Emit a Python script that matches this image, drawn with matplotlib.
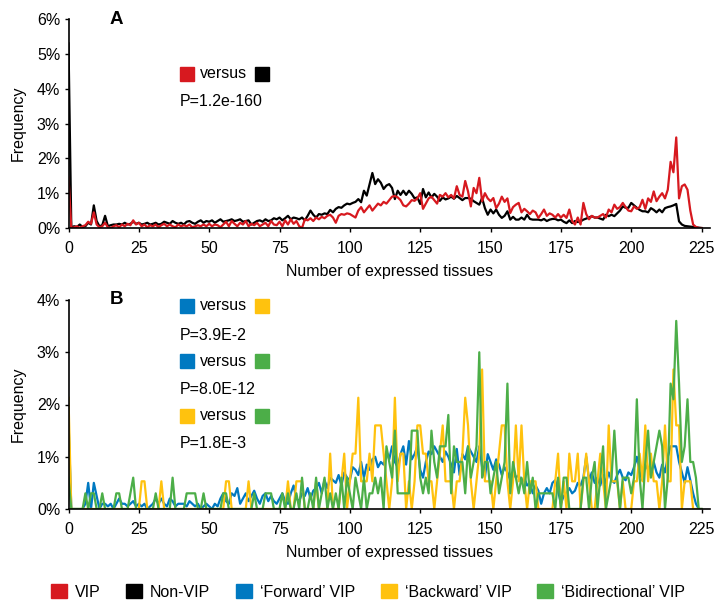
import matplotlib
matplotlib.use("Agg")
import matplotlib.pyplot as plt
import numpy as np
from matplotlib.patches import Patch, Rectangle
from matplotlib.ticker import FuncFormatter

plt.rcParams['font.family'] = ['Liberation Sans', 'DejaVu Sans']

tissues = list(range(226))

# panel A: frequency (%) by number of expressed tissues
vip = [1.45, 0.0, 0.02, 0.05, 0.0, 0.05, 0.08, 0.18, 0.12, 0.45,
       0.1, 0.02, 0.05, 0.15, 0.02, 0.0, 0.05, 0.08, 0.02, 0.1,
       0.05, 0.12, 0.08, 0.22, 0.1, 0.15, 0.05, 0.1, 0.02, 0.08,
       0.05, 0.1, 0.02, 0.08, 0.12, 0.05, 0.1, 0.05, 0.02, 0.1,
       0.05, 0.08, 0.05, 0.1, 0.02, 0.05, 0.08, 0.05, 0.1, 0.05,
       0.12, 0.05, 0.1, 0.08, 0.02, 0.1, 0.18, 0.05, 0.2, 0.12,
       0.05, 0.15, 0.1, 0.2, 0.05, 0.12, 0.08, 0.15, 0.05, 0.1,
       0.15, 0.05, 0.2, 0.1, 0.08, 0.18, 0.05, 0.22, 0.1, 0.25,
       0.12, 0.2, 0.05, 0.0, 0.25, 0.22, 0.28, 0.2, 0.3, 0.25,
       0.32, 0.28, 0.35, 0.38, 0.3, 0.15, 0.35, 0.4, 0.38, 0.42,
       0.4, 0.35, 0.3, 0.5, 0.6, 0.45, 0.55, 0.65, 0.5, 0.6,
       0.7, 0.65, 0.75, 0.7, 0.8, 0.9, 0.92, 0.88, 0.8, 0.65,
       0.62, 0.7, 0.8, 0.78, 0.85, 1.0, 0.55, 0.7, 0.85, 0.9,
       0.8, 0.7, 0.95, 0.9, 1.0, 0.88, 0.95, 0.85, 1.2, 0.95,
       0.9, 1.35, 1.05, 0.62, 1.15, 1.0, 1.44, 0.77, 1.0, 0.85,
       0.77, 0.86, 0.57, 0.7, 0.9, 0.75, 0.85, 0.43, 0.6, 0.67,
       0.72, 0.45, 0.55, 0.48, 0.4, 0.5, 0.45, 0.29, 0.4, 0.53,
       0.35, 0.42, 0.38, 0.3, 0.4, 0.3, 0.38, 0.29, 0.53, 0.2,
       0.1, 0.3, 0.1, 0.72, 0.4, 0.25, 0.35, 0.3, 0.3, 0.35,
       0.4, 0.3, 0.53, 0.45, 0.67, 0.55, 0.6, 0.72, 0.6, 0.5,
       0.48, 0.62, 0.55, 0.6, 0.81, 0.55, 0.85, 0.75, 1.05, 0.77,
       0.9, 1.0, 0.85, 1.1, 1.9, 1.6, 2.6, 0.85, 1.2, 1.25,
       1.1, 0.5, 0.1, 0.03, 0.0, 0.0]

non_vip = [5.3, 0.02, 0.05, 0.03, 0.1, 0.03, 0.05, 0.15, 0.1, 0.65,
           0.2, 0.05, 0.08, 0.35, 0.05, 0.08, 0.1, 0.1, 0.12, 0.1,
           0.15, 0.1, 0.12, 0.18, 0.12, 0.15, 0.1, 0.12, 0.15, 0.1,
           0.12, 0.15, 0.1, 0.12, 0.18, 0.15, 0.12, 0.2, 0.15, 0.12,
           0.15, 0.1, 0.18, 0.2, 0.15, 0.12, 0.18, 0.22, 0.15, 0.2,
           0.18, 0.22, 0.15, 0.2, 0.25, 0.18, 0.2, 0.22, 0.25, 0.2,
           0.22, 0.25, 0.18, 0.2, 0.22, 0.1, 0.15, 0.2, 0.22, 0.18,
           0.25, 0.2, 0.22, 0.28, 0.25, 0.3, 0.22, 0.28, 0.35, 0.25,
           0.3, 0.28, 0.25, 0.3, 0.22, 0.35, 0.5, 0.38, 0.3, 0.4,
           0.38, 0.42, 0.4, 0.52, 0.45, 0.55, 0.6, 0.58, 0.65, 0.7,
           0.68, 0.72, 0.75, 0.83, 0.74, 1.07, 0.93, 1.26, 1.58, 1.26,
           1.4, 1.3, 1.12, 1.22, 1.26, 1.15, 0.83, 1.07, 0.95, 1.07,
           0.95, 1.07, 0.98, 0.85, 0.88, 0.69, 1.12, 0.88, 1.02, 0.88,
           0.98, 0.9, 0.78, 0.88, 0.82, 0.85, 0.9, 0.84, 0.92, 0.86,
           0.8, 0.86, 0.86, 0.84, 0.77, 0.72, 0.67, 0.86, 0.57, 0.38,
           0.53, 0.42, 0.53, 0.38, 0.29, 0.35, 0.48, 0.24, 0.32, 0.24,
           0.24, 0.3, 0.24, 0.38, 0.26, 0.24, 0.24, 0.24, 0.22, 0.26,
           0.2, 0.24, 0.26, 0.26, 0.22, 0.24, 0.18, 0.14, 0.22, 0.14,
           0.2, 0.17, 0.19, 0.24, 0.27, 0.3, 0.34, 0.3, 0.3, 0.27,
           0.24, 0.38, 0.34, 0.38, 0.34, 0.42, 0.5, 0.62, 0.58, 0.58,
           0.72, 0.65, 0.58, 0.52, 0.48, 0.48, 0.45, 0.57, 0.52, 0.45,
           0.53, 0.45, 0.57, 0.6, 0.62, 0.65, 0.69, 0.19, 0.1, 0.06,
           0.05, 0.04, 0.03, 0.02, 0.01, 0.0]

# panel B
forward = [1.7, 0.0, 0.0, 0.0, 0.0, 0.0, 0.1, 0.5, 0.0, 0.5,
           0.25, 0.0, 0.1, 0.1, 0.05, 0.1, 0.0, 0.1, 0.2, 0.1,
           0.1, 0.05, 0.1, 0.15, 0.05, 0.1, 0.05, 0.1, 0.0, 0.05,
           0.1, 0.2, 0.1, 0.2, 0.1, 0.05, 0.2, 0.15, 0.05, 0.1,
           0.1, 0.1, 0.05, 0.15, 0.1, 0.05, 0.1, 0.0, 0.05, 0.1,
           0.05, 0.0, 0.1, 0.05, 0.2, 0.3, 0.15, 0.1, 0.3, 0.25,
           0.4, 0.1, 0.2, 0.3, 0.15, 0.25, 0.35, 0.2, 0.1, 0.25,
           0.3, 0.15, 0.25, 0.15, 0.1, 0.2, 0.3, 0.15, 0.1, 0.3,
           0.45, 0.2, 0.15, 0.3, 0.25, 0.4, 0.2, 0.35, 0.4, 0.5,
           0.3, 0.55, 0.4, 0.6, 0.55, 0.5, 0.65, 0.45, 0.7, 0.6,
           0.55, 0.8, 0.75, 0.65, 0.9, 0.6, 0.85, 0.75, 0.95, 1.0,
           0.8, 0.9, 0.85, 1.1, 0.95, 1.2, 0.9, 0.8, 1.05, 1.2,
           0.85, 1.3, 0.95, 1.05, 1.2, 0.75, 0.6, 0.9, 1.1, 1.05,
           1.2, 1.1, 1.0, 0.9, 1.1, 1.0, 0.85, 0.7, 1.15, 0.65,
           1.05, 0.95, 1.2, 1.1, 1.0, 0.9, 1.2, 0.8, 0.6, 1.05,
           0.9, 0.75, 0.95, 0.85, 0.65, 0.8, 0.7, 0.55, 0.7, 0.6,
           0.65, 0.5, 0.6, 0.45, 0.5, 0.3, 0.45, 0.35, 0.1, 0.3,
           0.4, 0.3, 0.5, 0.55, 0.35, 0.1, 0.25, 0.3, 0.4, 0.3,
           0.35, 0.5, 0.45, 0.6, 1.0, 0.55, 0.7, 0.5, 0.6, 0.45,
           0.65, 0.5, 0.7, 0.55, 0.5, 0.65, 0.75, 0.6, 0.55, 0.7,
           0.65, 0.8, 1.0, 0.7, 0.55, 0.85, 0.75, 0.65, 0.9, 0.7,
           0.6, 0.85, 0.7, 1.0, 1.2, 1.2, 1.2, 0.9, 0.7, 0.5,
           0.8, 0.55, 0.3, 0.1, 0.0, 0.0]

backward = [2.13, 0, 0, 0, 0, 0, 0, 0, 0, 0,
            0, 0, 0, 0, 0, 0, 0, 0, 0, 0,
            0, 0, 0, 0, 0, 0, 0.53, 0.53, 0, 0,
            0, 0, 0, 0.53, 0, 0, 0, 0, 0, 0,
            0, 0, 0, 0, 0, 0, 0, 0, 0, 0,
            0, 0, 0, 0, 0, 0, 0.53, 0.53, 0, 0,
            0, 0, 0, 0, 0.53, 0, 0, 0, 0, 0,
            0, 0, 0, 0, 0, 0, 0, 0, 0.53, 0,
            0, 0.53, 0.53, 0.53, 0, 0, 0, 0, 0.53, 0,
            0, 0, 0, 1.06, 0, 0, 0, 0.53, 1.06, 0,
            0.53, 1.06, 1.06, 2.13, 0.53, 0.53, 0.53, 1.06, 0.53, 1.6,
            1.6, 1.6, 1.06, 0.53, 0, 0.53, 2.13, 0.53, 1.06, 1.06,
            0, 0.53, 0, 0.53, 1.6, 1.6, 1.06, 1.06, 0.53, 0.53,
            0, 0.53, 1.06, 1.6, 0.53, 0.53, 0.53, 0, 0.53, 0.53,
            1.06, 2.13, 1.6, 0.53, 0, 0.53, 1.06, 2.67, 0.53, 0.53,
            0.53, 0, 0.53, 1.06, 1.6, 1.6, 0.53, 0, 0.53, 1.6,
            0.53, 1.6, 0.53, 0, 0.53, 0.53, 0.53, 0, 0, 0,
            0, 0, 0, 0.53, 1.06, 0, 0.53, 0, 1.06, 0.53,
            0.53, 1.06, 0, 0.53, 1.06, 0.53, 0, 0, 0.53, 1.06,
            0.53, 0, 1.6, 0.53, 0.53, 0.53, 0, 0.53, 0, 0,
            0, 0.53, 0.53, 1.06, 0.53, 1.6, 0.53, 1.06, 0.53, 0.53,
            0, 0.53, 1.6, 0.53, 0.53, 2.67, 1.6, 1.6, 0, 0.53,
            0.53, 0.53, 0, 0, 0, 0]

bidirectional = [0.6, 0, 0, 0, 0, 0, 0.3, 0, 0.3, 0.3,
                 0, 0, 0.3, 0, 0, 0, 0, 0.3, 0.3, 0,
                 0, 0, 0.3, 0.6, 0, 0, 0, 0, 0, 0,
                 0, 0.3, 0, 0, 0, 0, 0, 0.6, 0, 0,
                 0, 0, 0.3, 0.3, 0.3, 0.3, 0, 0, 0.3, 0,
                 0, 0, 0, 0, 0, 0.3, 0.3, 0, 0, 0,
                 0, 0, 0, 0, 0, 0, 0.3, 0, 0, 0,
                 0.3, 0.3, 0.3, 0, 0, 0, 0.3, 0, 0.3, 0,
                 0, 0.3, 0, 0.6, 0, 0, 0.3, 0, 0.6, 0,
                 0.3, 0.6, 0, 0.3, 0, 0.3, 0, 0.6, 0, 0.6,
                 0.3, 0, 0.6, 0.3, 0, 0.6, 0, 0.3, 0.3, 0.6,
                 0.3, 0.6, 0, 1.2, 0.9, 0.6, 1.5, 0.3, 0.3, 0.3,
                 0.3, 0.3, 1.5, 1.5, 1.5, 0.6, 0.3, 0.6, 0.3, 1.5,
                 0.9, 0.6, 1.2, 1.2, 1.2, 1.8, 0.3, 1.2, 0.9, 0.9,
                 0.9, 0.3, 1.2, 0.6, 0.9, 1.2, 3.0, 0.6, 0.9, 0.9,
                 0.3, 0.6, 0.9, 0.3, 0.6, 0.9, 2.4, 0.3, 0.9, 0.6,
                 0.3, 0.6, 0.3, 0.9, 0.3, 0.6, 0, 0.3, 0.3, 0.3,
                 0.3, 0.3, 0.3, 0, 0.6, 0, 0.6, 0.6, 0, 0,
                 0, 0, 0, 0.6, 0.6, 0, 0.6, 0.9, 0, 0.6,
                 1.2, 0, 0.3, 0.6, 1.5, 0.6, 0, 0.6, 0.6, 0.6,
                 0.3, 0.6, 2.1, 0.6, 0, 0.9, 1.5, 0.6, 0.9, 1.2,
                 1.5, 1.2, 0, 0.6, 2.4, 2.1, 3.6, 2.4, 0.9, 1.2,
                 2.1, 0.9, 0.9, 0.6, 0, 0]

RED = '#d7191f'
BLACK = '#000000'
BLUE = '#0079c1'
YELLOW = '#ffc20e'
GREEN = '#4cae48'

W, H = 718, 603
fig = plt.figure(figsize=(W / 100, H / 100), dpi=100)

pct = FuncFormatter(lambda v, p: '%d%%' % round(v))


def style_axes(ax, ymax):
    ax.set_xlim(0, 228)
    ax.set_ylim(0, ymax)
    ax.set_xticks(np.arange(0, 226, 25))
    ax.set_yticks(np.arange(0, ymax + 0.5, 1))
    ax.yaxis.set_major_formatter(pct)
    ax.spines['top'].set_visible(False)
    ax.spines['right'].set_visible(False)
    ax.spines['left'].set_linewidth(1.2)
    ax.spines['bottom'].set_linewidth(1.2)
    ax.tick_params(direction='out', length=3, width=1, labelsize=11.5, pad=3)
    ax.tick_params(axis='x', pad=6)
    ax.set_xlabel('Number of expressed tissues', fontsize=11.5, labelpad=6)
    ax.set_ylabel('Frequency', fontsize=11.5, labelpad=8)


def square(x, y, color):
    # x, y: top-left corner in pixels of the figure
    fig.patches.append(Rectangle((x / W, 1 - (y + 14) / H), 14 / W, 14 / H,
                                 transform=fig.transFigure, color=color))


def label(x, y, s, **kw):
    kw.setdefault('fontsize', 11.5)
    fig.text(x / W, 1 - y / H, s, va='center', ha='left', **kw)


axA = fig.add_axes([68.5 / W, (H - 228) / H, (710 - 68.5) / W, 209 / H])
axA.plot(tissues, non_vip, color=BLACK, lw=1.6)
axA.plot(tissues, vip, color=RED, lw=1.6)
style_axes(axA, 6)
label(110, 19, 'A', fontsize=13.5, fontweight='bold')
square(180, 67, RED)
label(200, 74, 'versus')
square(255, 67, BLACK)
label(180, 102, 'P=1.2e-160')

axB = fig.add_axes([68.5 / W, (H - 509) / H, (710 - 68.5) / W, 209 / H])
axB.plot(tissues, forward, color=BLUE, lw=1.6)
axB.plot(tissues, backward, color=YELLOW, lw=1.6)
axB.plot(tissues, bidirectional, color=GREEN, lw=1.6)
style_axes(axB, 4)
label(110, 300, 'B', fontsize=13.5, fontweight='bold')
square(180, 299, BLUE)
label(200, 306, 'versus')
square(255, 299, YELLOW)
label(180, 336, 'P=3.9E-2')
square(180, 354, BLUE)
label(200, 361, 'versus')
square(255, 354, GREEN)
label(180, 390, 'P=8.0E-12')
square(180, 409, YELLOW)
label(200, 416, 'versus')
square(255, 409, GREEN)
label(180, 443, 'P=1.8E-3')

handles = [Patch(color=c) for c in [RED, BLACK, BLUE, YELLOW, GREEN]]
names = ['VIP', 'Non-VIP', '\u2018Forward\u2019 VIP', '\u2018Backward\u2019 VIP',
         '\u2018Bidirectional\u2019 VIP']
fig.legend(handles, names, loc='center', bbox_to_anchor=(368 / W, 1 - 592 / H),
           ncol=5, frameon=False, fontsize=11.5, handlelength=1.0, handleheight=1.0,
           handletextpad=0.5, columnspacing=1.6)

fig.savefig('out.png', dpi=100)
